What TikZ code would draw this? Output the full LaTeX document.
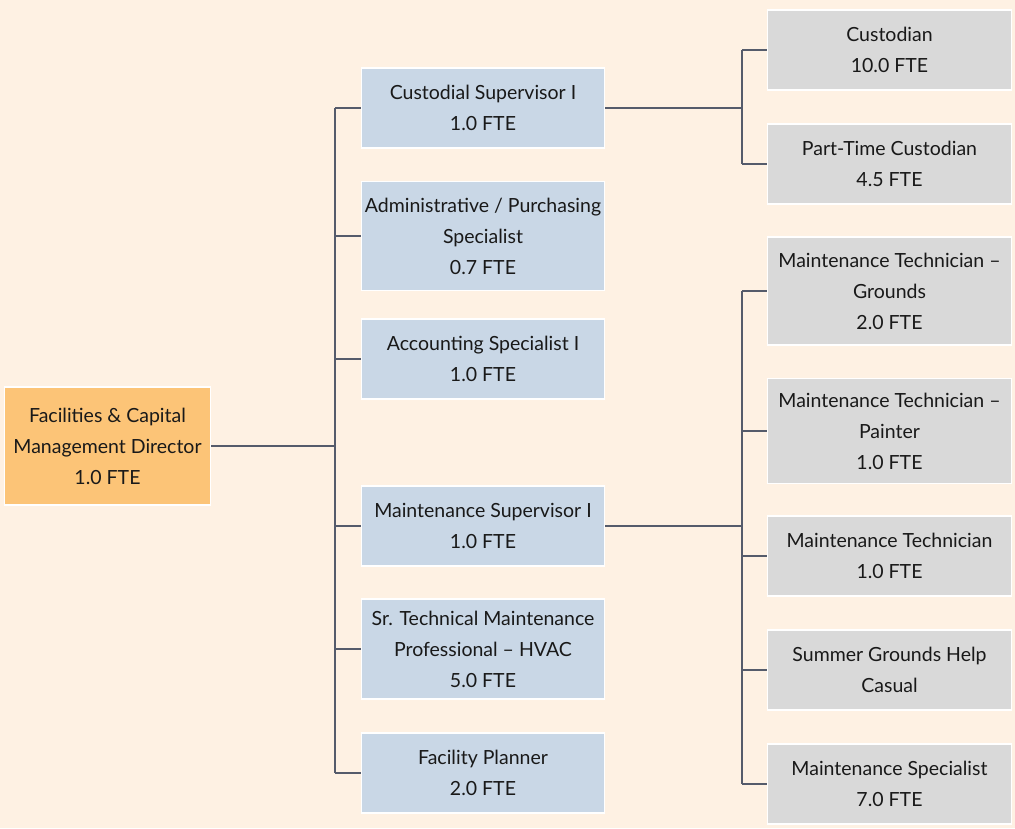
\documentclass[tikz,border=0pt]{standalone}
\usepackage{fontspec}
\setmainfont{Lato}
\begin{document}
\begin{tikzpicture}[x=1pt,y=-1pt,
  box/.style={draw=white,line width=1.5pt,align=center,inner sep=2pt,
    font=\fontsize{19.5}{31}\selectfont,text=black!90},
  dirbox/.style={box,fill=dirc,minimum width=206pt,minimum height=118pt},
  midbox/.style={box,fill=midc,minimum width=243pt},
  rbox/.style={box,fill=rc,minimum width=244pt},
  conn/.style={draw=linec,line width=1.5pt},
  mainconn/.style={draw=linec,line width=2.2pt}]
\definecolor{bgc}{HTML}{FEF1E3}
\definecolor{dirc}{HTML}{FCC477}
\definecolor{midc}{HTML}{C9D7E6}
\definecolor{rc}{HTML}{D9D9D9}
\definecolor{linec}{HTML}{555B6B}
\useasboundingbox (0,0) rectangle (1015,828);
\fill[bgc] (0,0) rectangle (1015,828);

\node[dirbox] (dir) at (107.5,446) {Facilities \& Capital\\Management Director\\1.0 FTE};

\node[midbox,minimum height=80pt] (cs) at (483,108) {Custodial Supervisor I\\1.0 FTE};
\node[midbox,minimum height=109pt] (ap) at (483,236) {Administrative / Purchasing\\Specialist\\0.7 FTE};
\node[midbox,minimum height=80pt] (ac) at (483,359) {Accounting Specialist I\\1.0 FTE};
\node[midbox,minimum height=80pt] (ms) at (483,526) {Maintenance Supervisor I\\1.0 FTE};
\node[midbox,minimum height=100pt] (st) at (483,649) {Sr. Technical Maintenance\\Professional -- HVAC\\5.0 FTE};
\node[midbox,minimum height=80pt] (fp) at (483,773) {Facility Planner\\2.0 FTE};

\node[rbox,minimum height=80pt] (cu) at (889.5,50) {Custodian\\10.0 FTE};
\node[rbox,minimum height=80pt] (pt) at (889.5,164) {Part-Time Custodian\\4.5 FTE};
\node[rbox,minimum height=108pt] (mg) at (889.5,291) {Maintenance Technician --\\Grounds\\2.0 FTE};
\node[rbox,minimum height=105pt] (mp) at (889.5,431) {Maintenance Technician --\\Painter\\1.0 FTE};
\node[rbox,minimum height=80pt] (mt) at (889.5,556) {Maintenance Technician\\1.0 FTE};
\node[rbox,minimum height=80pt] (sg) at (889.5,670) {Summer Grounds Help\\Casual};
\node[rbox,minimum height=80pt] (mx) at (889.5,784) {Maintenance Specialist\\7.0 FTE};

\coordinate (t) at (335,446);
\coordinate (r) at (742,108);

% director to trunk
\draw[mainconn] (dir.east) -- (dir.east -| t);
\draw[mainconn] (t |- cs.west) -- (t |- fp.west);
\foreach \n in {cs,ap,ac,ms,st,fp} \draw[conn] (t |- \n.west) -- (\n.west);

% custodial branch
\draw[mainconn] (cs.east) -- (cs.east -| r);
\draw[conn] (r |- cu.west) -- (r |- pt.west);
\foreach \n in {cu,pt} \draw[conn] (r |- \n.west) -- (\n.west);

% maintenance branch
\draw[mainconn] (ms.east) -- (ms.east -| r);
\draw[conn] (r |- mg.west) -- (r |- mx.west);
\foreach \n in {mg,mp,mt,sg,mx} \draw[conn] (r |- \n.west) -- (\n.west);
\end{tikzpicture}
\end{document}
